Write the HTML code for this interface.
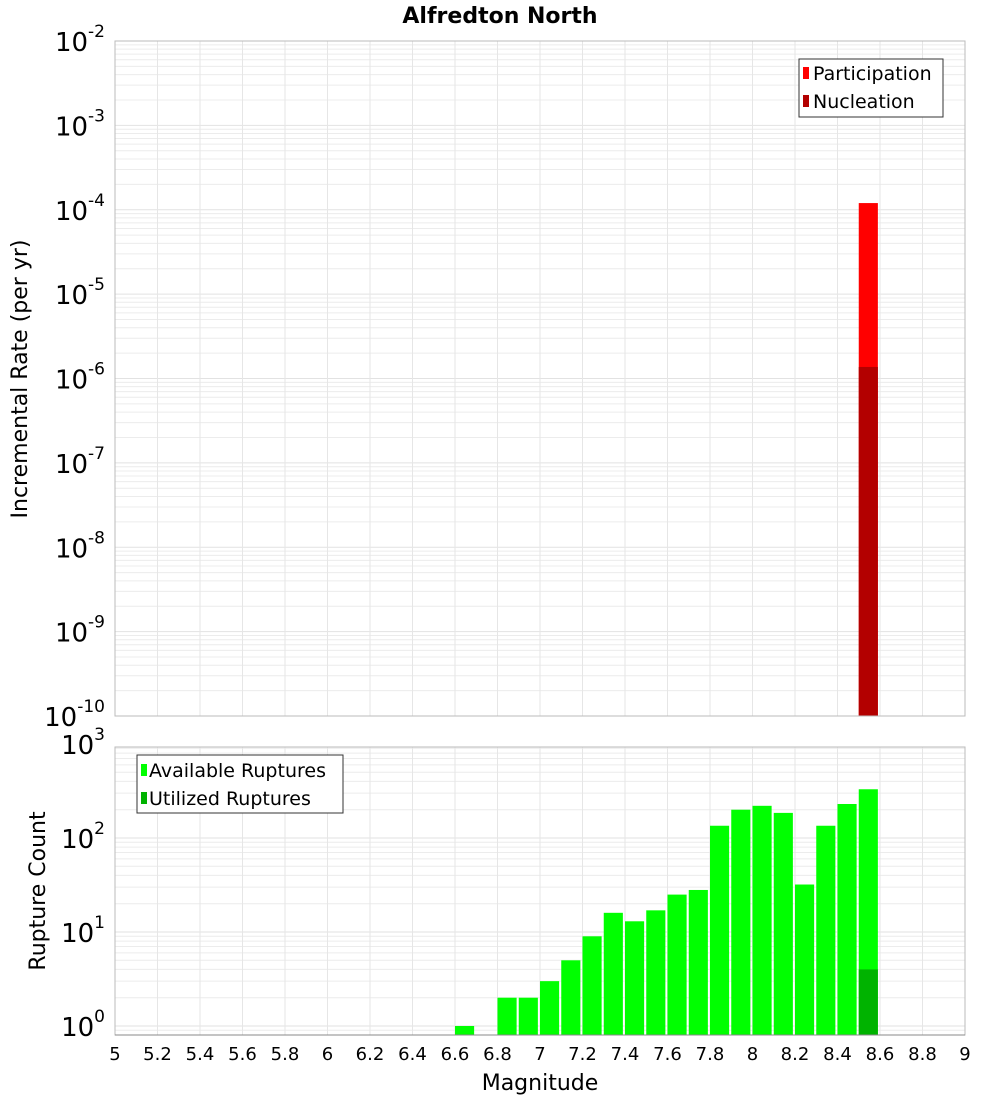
<!DOCTYPE html>
<html><head><meta charset="utf-8"><style>body{margin:0;background:#fff}svg{display:block;font-family:"DejaVu Sans","Liberation Sans",sans-serif}</style></head>
<body>
<svg id="c" width="1000" height="1100">
<text x="500" y="23" text-anchor="middle" font-size="22" font-weight="bold">Alfredton North</text>
<g id="topPlot"></g>
<g id="botPlot"></g>
<text transform="translate(27,379) rotate(-90)" text-anchor="middle" font-size="22">Incremental Rate (per yr)</text>
<text transform="translate(45,891) rotate(-90)" text-anchor="middle" font-size="22">Rupture Count</text>
<text x="540" y="1090" text-anchor="middle" font-size="22">Magnitude</text>
<g>
<rect x="799" y="59" width="144" height="58" fill="#fff" stroke="#333"/>
<rect x="803" y="67" width="6" height="12" fill="#ff0000"/><text x="813" y="80" font-size="19">Participation</text>
<rect x="803" y="95" width="6" height="12" fill="#b30000"/><text x="813" y="108" font-size="19">Nucleation</text>
</g>
<g>
<rect x="137" y="755" width="206" height="58" fill="#fff" stroke="#333"/>
<rect x="141" y="764" width="6" height="12" fill="#00ff00"/><text x="149" y="777" font-size="19">Available Ruptures</text>
<rect x="141" y="792" width="6" height="12" fill="#00b300"/><text x="149" y="805" font-size="19">Utilized Ruptures</text>
</g>
</svg>
<script>
const binStarts=[6.6,6.8,6.9,7.0,7.1,7.2,7.3,7.4,7.5,7.6,7.7,7.8,7.9,8.0,8.1,8.2,8.3,8.4,8.5];
const available=[1,2,2,3,5,9,16,13,17,25,28,135,200,220,185,32,135,230,330];
const utilizedBins=[8.5];
const utilized=[4];
const rateBins=[8.5];
const participation=[1.2e-4];
const nucleation=[1.37e-6];
const xTicks=[5,5.2,5.4,5.6,5.8,6,6.2,6.4,6.6,6.8,7,7.2,7.4,7.6,7.8,8,8.2,8.4,8.6,8.8,9];
const topExp=[-10,-9,-8,-7,-6,-5,-4,-3,-2];
const botExp=[0,1,2,3];
const NS='http://www.w3.org/2000/svg';
const X0=115,X1=965;
const x=m=>X0+(m-5)*(X1-X0)/4;
const TT=41,TB=716;
const yT=v=>TB-(Math.log10(v)+10)*(TB-TT)/8;
const BT=747,BB=1035;
const yB=v=>1026-94*Math.log10(v);
function el(p,t,a){const e=document.createElementNS(NS,t);for(const k in a)e.setAttribute(k,a[k]);p.appendChild(e);return e;}
const topG=document.getElementById('topPlot'),botG=document.getElementById('botPlot');
function grid(g,t,b,yf,lo,hi){
  for(let e=lo;e<hi;e++)for(let k=1;k<10;k++){const yy=yf(k*Math.pow(10,e));if(yy<t||yy>b)continue;
    const l=el(g,'line',{x1:X0,x2:X1,y1:yy,y2:yy,stroke:k==1?'#e2e2e2':'#ececec','stroke-width':1});
    
    }
  xTicks.forEach(m=>{const l=el(g,'line',{x1:x(m),x2:x(m),y1:t,y2:b,stroke:'#e6e6e6'});
    
    });
}
grid(topG,TT,TB,yT,-10,-2);
grid(botG,BT,BB,yB,-1,3);
const bw=0.09;
rateBins.forEach((m,i)=>{
  const r=el(topG,'rect',{x:x(m),width:x(m+bw)-x(m),y:yT(participation[i]),height:TB-yT(participation[i]),fill:'#ff0000'});
  
  
  const n=el(topG,'rect',{x:x(m),width:x(m+bw)-x(m),y:yT(nucleation[i]),height:TB-yT(nucleation[i]),fill:'#b30000'});
  
  
});
binStarts.forEach((m,i)=>{
  const r=el(botG,'rect',{x:x(m),width:x(m+bw)-x(m),y:yB(available[i]),height:BB-yB(available[i]),fill:'#00ff00'});
  
  
});
utilizedBins.forEach((m,i)=>{
  const r=el(botG,'rect',{x:x(m),width:x(m+bw)-x(m),y:yB(utilized[i]),height:BB-yB(utilized[i]),fill:'#00b300'});
  
  
});
el(topG,'rect',{x:X0,y:TT,width:X1-X0,height:TB-TT,fill:'none',stroke:'#bbb'});
el(botG,'rect',{x:X0,y:BT,width:X1-X0,height:BB-BT,fill:'none',stroke:'#bbb'});
el(botG,'line',{x1:X0,x2:X1,y1:BB,y2:BB,stroke:'#888'});
function expLabel(g,yy,e,name){
  const t=el(g,'text',{x:105,y:yy+10,'text-anchor':'end','font-size':26});
  
  
  t.textContent='10';
  const s=el(t,'tspan',{dy:-14,'font-size':17});s.textContent=String(e);
}
topExp.forEach(e=>expLabel(topG,yT(Math.pow(10,e)),e,'top-y-tick-label'));
botExp.forEach(e=>expLabel(botG,yB(Math.pow(10,e)),e,'bottom-y-tick-label'));
xTicks.forEach(m=>{
  const t=el(botG,'text',{x:x(m),y:1060,'text-anchor':'middle','font-size':18});
  
  
  t.textContent=String(m);
});
</script>
</body></html>
